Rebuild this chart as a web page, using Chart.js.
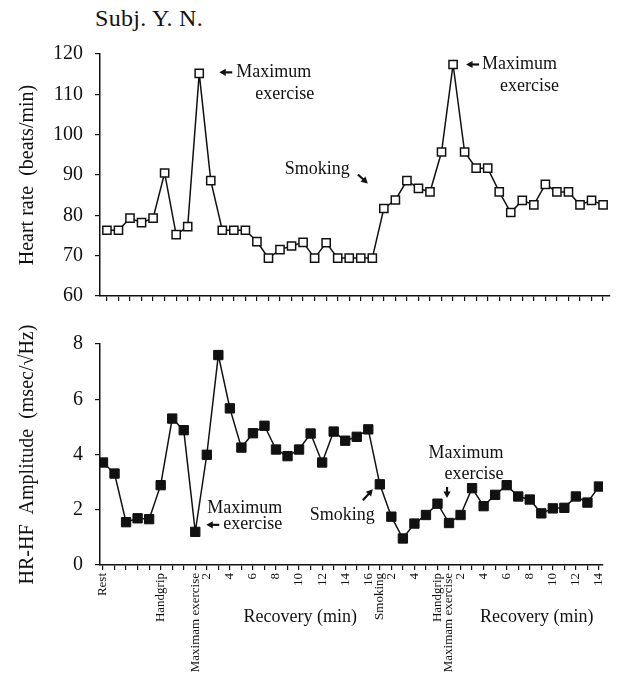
<!DOCTYPE html>
<html>
<head>
<meta charset="utf-8">
<title>Subj. Y. N.</title>
<script src="https://cdn.jsdelivr.net/npm/chart.js@4.4.0/dist/chart.umd.min.js"></script>
<style>
  html, body { margin: 0; padding: 0; background: #fff; overflow: hidden; }
  body { width: 620px; height: 674px; position: relative; font-family: 'Liberation Serif', 'DejaVu Serif', serif; color: #111; }
  #subject { position: absolute; left: 95px; top: 5px; font-size: 24px; letter-spacing: 0.3px; }
  #top-wrap { position: absolute; left: 0; top: 30px; }
  #bottom-wrap { position: absolute; left: 0; top: 320px; }
</style>
</head>
<body>
<div id="subject">Subj. Y. N.</div>
<div id="top-wrap"><canvas id="hr-chart" width="620" height="290"></canvas></div>
<div id="bottom-wrap"><canvas id="hf-chart" width="620" height="370"></canvas></div>
<script>
// x-axis labels, one per measurement (empty = tick only)
const xLabels = [
    'Rest', '', '', '', '', 'Handgrip', '', '', 'Maximam exercise', '2',
    '', '4', '', '6', '', '8', '', '10', '', '12',
    '', '14', '', '16', 'Smoking', '2', '', '4', '', 'Handgrip',
    'Maximam exercise', '2', '', '4', '', '6', '', '8', '', '10',
    '', '12', '', '14'
];

// Heart rate (beats/min)
const heartRate = [
    76.3, 76.3, 79.3, 78.2, 79.3, 90.5, 75.2, 77.2, 115.2, 88.6,
    76.3, 76.3, 76.3, 73.5, 69.4, 71.5, 72.4, 73.3, 69.4, 73.2,
    69.4, 69.4, 69.4, 69.4, 81.7, 83.8, 88.6, 86.7, 85.8, 95.7,
    117.4, 95.7, 91.7, 91.7, 85.8, 80.7, 83.7, 82.6, 87.7, 85.8,
    85.8, 82.6, 83.7, 82.6
];

// HR-HF amplitude (msec/sqrt(Hz))
const hfAmplitude = [
    3.71, 3.31, 1.55, 1.69, 1.66, 2.89, 5.30, 4.88, 1.20, 3.99,
    7.60, 5.67, 4.25, 4.77, 5.04, 4.18, 3.94, 4.18, 4.76, 3.71,
    4.83, 4.50, 4.64, 4.91, 2.92, 1.75, 0.96, 1.50, 1.81, 2.22,
    1.52, 1.81, 2.78, 2.13, 2.54, 2.89, 2.48, 2.37, 1.87, 2.05,
    2.07, 2.48, 2.26, 2.84
];

const hrTickStep = 10;
const hfTickStep = 2;

const INK = '#111';
const SERIF = "'Liberation Serif', 'DejaVu Serif', serif";

Chart.defaults.font.family = SERIF;
Chart.defaults.color = INK;

function arrow(ctx, x1, y1, x2, y2) {
    const a = Math.atan2(y2 - y1, x2 - x1);
    const head = 6.5, wing = 3.6;
    ctx.beginPath();
    ctx.lineWidth = 2.2;
    ctx.moveTo(x1, y1);
    ctx.lineTo(x2 - Math.cos(a) * head * 0.8, y2 - Math.sin(a) * head * 0.8);
    ctx.stroke();
    ctx.beginPath();
    ctx.moveTo(x2, y2);
    ctx.lineTo(x2 - Math.cos(a) * head - Math.sin(a) * wing, y2 - Math.sin(a) * head + Math.cos(a) * wing);
    ctx.lineTo(x2 - Math.cos(a) * head + Math.sin(a) * wing, y2 - Math.sin(a) * head - Math.cos(a) * wing);
    ctx.closePath();
    ctx.fill();
}

function label(ctx, text, x, y, align) {
    ctx.textAlign = align;
    ctx.fillText(text, x, y);
}

// notes on the heart rate panel
const hrNotes = {
    id: 'hrNotes',
    afterDraw(chart) {
        const ctx = chart.ctx;
        const xs = chart.scales.x, ys = chart.scales.y;
        ctx.save();
        ctx.fillStyle = INK;
        ctx.strokeStyle = INK;
        ctx.font = '18px ' + SERIF;
        ctx.textBaseline = 'middle';

        let px = xs.getPixelForValue(8), py = ys.getPixelForValue(heartRate[8]);
        arrow(ctx, px + 33, py - 1, px + 20, py - 1);
        label(ctx, 'Maximum', px + 37, py - 1, 'left');
        label(ctx, 'exercise', px + 115, py + 21, 'right');

        px = xs.getPixelForValue(30); py = ys.getPixelForValue(heartRate[30]);
        arrow(ctx, px + 26, py, px + 13, py);
        label(ctx, 'Maximum', px + 29, py, 'left');
        label(ctx, 'exercise', px + 106, py + 22, 'right');

        px = xs.getPixelForValue(24); py = ys.getPixelForValue(heartRate[24]);
        label(ctx, 'Smoking', px - 34, py - 39, 'right');
        arrow(ctx, px - 26, py - 34, px - 16, py - 25);
        ctx.restore();
    }
};

// notes on the HF amplitude panel
const hfNotes = {
    id: 'hfNotes',
    afterDraw(chart) {
        const ctx = chart.ctx;
        const xs = chart.scales.x, ys = chart.scales.y;
        ctx.save();
        ctx.fillStyle = INK;
        ctx.strokeStyle = INK;
        ctx.font = '18px ' + SERIF;
        ctx.textBaseline = 'middle';

        let px = xs.getPixelForValue(8), py = ys.getPixelForValue(hfAmplitude[8]);
        label(ctx, 'Maximum', px + 87, py - 24, 'right');
        label(ctx, 'exercise', px + 87, py - 8, 'right');
        arrow(ctx, px + 24, py - 7, px + 11, py - 7);

        px = xs.getPixelForValue(24); py = ys.getPixelForValue(hfAmplitude[24]);
        label(ctx, 'Smoking', px - 5, py + 31, 'right');
        arrow(ctx, px - 17, py + 16, px - 7, py + 5);

        px = xs.getPixelForValue(30); py = ys.getPixelForValue(hfAmplitude[30]);
        label(ctx, 'Maximum', px + 17, py - 70, 'center');
        label(ctx, 'exercise', px + 25, py - 49, 'center');
        arrow(ctx, px - 2, py - 36, px - 2, py - 25);

        // phase titles under the axis
        const yb = chart.chartArea.bottom + 52;
        label(ctx, 'Recovery (min)', xs.getPixelForValue(17.1), yb, 'center');
        label(ctx, 'Recovery (min)', xs.getPixelForValue(37.6), yb, 'center');
        ctx.restore();
    }
};

function axisLine() {
    return { display: true, color: INK, width: 1.5 };
}

function tickGrid() {
    return { drawOnChartArea: false, drawTicks: true, tickLength: 5, color: INK, lineWidth: 1.2 };
}

const hrConfig = {
    type: 'line',
    data: {
        datasets: [{
            data: heartRate.map((v, i) => ({ x: i, y: v })),
            borderColor: INK,
            borderWidth: 1.5,
            pointStyle: 'rect',
            pointRadius: 5.8,
            pointBackgroundColor: '#fff',
            pointBorderColor: INK,
            pointBorderWidth: 1.5,
            tension: 0
        }]
    },
    options: {
        responsive: false,
        animation: false,
        events: [],
        layout: { padding: { top: 23, right: 10, left: 0, bottom: 0 } },
        plugins: { legend: { display: false }, tooltip: { enabled: false } },
        scales: {
            x: {
                type: 'linear',
                min: -0.6,
                max: 43.6,
                border: axisLine(),
                grid: tickGrid(),
                ticks: { stepSize: 1, autoSkip: false, includeBounds: false, padding: 0, callback: () => '' },
                afterFit(scale) { scale.height = 20; }
            },
            y: {
                min: 60,
                max: 120,
                border: axisLine(),
                grid: tickGrid(),
                ticks: { stepSize: hrTickStep, padding: 12, color: INK, font: { size: 20 } },
                title: {
                    display: true,
                    text: 'Heart rate  (beats/min)',
                    color: INK,
                    font: { size: 20 },
                    padding: { top: 16, bottom: 0 }
                },
                afterFit(scale) { scale.width = 100; }
            }
        }
    },
    plugins: [hrNotes]
};

const hfConfig = {
    type: 'line',
    data: {
        datasets: [{
            data: hfAmplitude.map((v, i) => ({ x: i, y: v })),
            borderColor: INK,
            borderWidth: 1.5,
            pointStyle: 'rect',
            pointRadius: 6.6,
            pointBackgroundColor: INK,
            pointBorderColor: INK,
            pointBorderWidth: 1,
            tension: 0
        }]
    },
    options: {
        responsive: false,
        animation: false,
        events: [],
        layout: { padding: { top: 17, right: 17, left: 0, bottom: 0 } },
        plugins: { legend: { display: false }, tooltip: { enabled: false } },
        scales: {
            x: {
                type: 'linear',
                min: -0.26,
                max: 43.35,
                border: axisLine(),
                grid: tickGrid(),
                ticks: {
                    stepSize: 1,
                    autoSkip: false,
                    includeBounds: false,
                    minRotation: 90,
                    maxRotation: 90,
                    padding: 3,
                    color: INK,
                    font: { size: 13 },
                    callback: (v) => xLabels[v] || ''
                },
                afterFit(scale) { scale.height = 125; }
            },
            y: {
                min: 0,
                max: 8,
                border: axisLine(),
                grid: tickGrid(),
                ticks: { stepSize: hfTickStep, padding: 12, color: INK, font: { size: 20 } },
                title: {
                    display: true,
                    text: 'HR-HF  Amplitude  (msec/\u221AHz)',
                    color: INK,
                    font: { size: 20 },
                    align: 'center',
                    padding: { top: 16, bottom: 0 }
                },
                afterFit(scale) { scale.width = 100; }
            }
        }
    },
    plugins: [hfNotes]
};

new Chart(document.getElementById('hr-chart'), hrConfig);
new Chart(document.getElementById('hf-chart'), hfConfig);
</script>
</body>
</html>
